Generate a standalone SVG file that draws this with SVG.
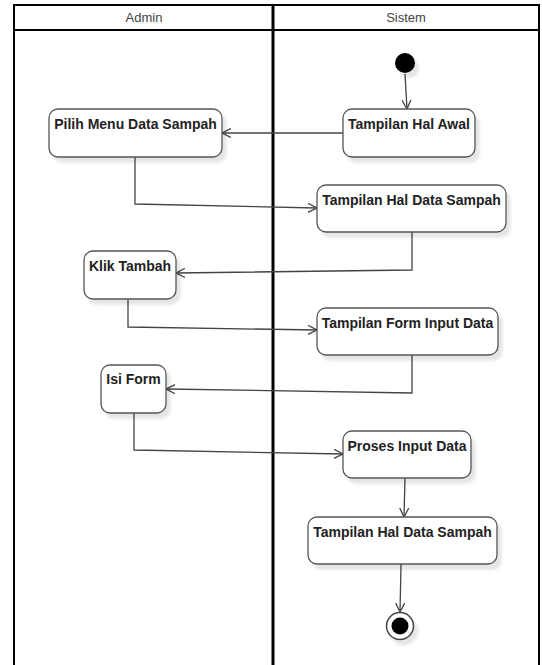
<svg xmlns="http://www.w3.org/2000/svg" width="542" height="665" viewBox="0 0 542 665">
  <style>
    .lane { fill: none; stroke: #000; stroke-width: 2; }
    .hdr { font-family: "Liberation Sans", Arial, sans-serif; font-size: 13px; fill: #444; text-anchor: middle; }
    .act { fill: #fff; stroke: #555; stroke-width: 1.3; filter: url(#shadow); }
    .lbl { font-family: "Liberation Sans", Arial, sans-serif; font-size: 14px; font-weight: bold; fill: #222; text-anchor: middle; }
    .flow { fill: none; stroke: #444; stroke-width: 1.3; marker-end: url(#open); }
  </style>
  <defs>
    <filter id="shadow" x="-20%" y="-20%" width="150%" height="160%">
      <feDropShadow dx="4" dy="5" stdDeviation="1.5" flood-color="#000" flood-opacity="0.1"/>
    </filter>
    <marker id="open" viewBox="0 0 10 10" refX="9" refY="5" markerWidth="10" markerHeight="10" markerUnits="userSpaceOnUse" orient="auto">
      <path d="M0,0.5 L9,5 L0,9.5" fill="none" stroke="#444" stroke-width="1.3"/>
    </marker>
  </defs>

  <rect x="0" y="0" width="542" height="665" fill="#fff"/>

  <!-- swimlanes -->
  <g id="lanes">
    <rect class="lane" x="14" y="5" width="525" height="670"/>
    <line class="lane" x1="14" y1="30" x2="539" y2="30"/>
    <line x1="273" y1="5" x2="273" y2="665" stroke="#000" stroke-width="3"/>
    <text class="hdr" x="144" y="22">Admin</text>
    <text class="hdr" x="406" y="22">Sistem</text>
  </g>

  <!-- connectors -->
  <g id="connectors">
    <path class="flow" d="M405,74 L407,109"/>
    <path class="flow" d="M343,133 L222,133"/>
    <path class="flow" d="M135,157 L135,204 L317,208"/>
    <path class="flow" d="M412,232 L412,270 L176,273"/>
    <path class="flow" d="M128,299 L128,327 L317,330"/>
    <path class="flow" d="M412,355 L412,393 L166,389"/>
    <path class="flow" d="M134,413 L134,450 L343,454"/>
    <path class="flow" d="M405,478 L404,517"/>
    <path class="flow" d="M401,564 L400,612"/>
  </g>

  <!-- nodes -->
  <g id="start">
    <circle cx="405" cy="63" r="10" fill="#000" filter="url(#shadow)"/>
  </g>
  <g id="tampilan-hal-awal">
    <rect class="act" x="343" y="109" width="132" height="48" rx="9"/>
    <text class="lbl" x="409" y="129">Tampilan Hal Awal</text>
  </g>
  <g id="pilih-menu">
    <rect class="act" x="49" y="109" width="173" height="48" rx="9"/>
    <text class="lbl" x="135.5" y="129">Pilih Menu Data Sampah</text>
  </g>
  <g id="tampilan-data-sampah-1">
    <rect class="act" x="317" y="185" width="189" height="47" rx="9"/>
    <text class="lbl" x="411.5" y="205">Tampilan Hal Data Sampah</text>
  </g>
  <g id="klik-tambah">
    <rect class="act" x="84" y="251" width="92" height="48" rx="9"/>
    <text class="lbl" x="130" y="271">Klik Tambah</text>
  </g>
  <g id="tampilan-form">
    <rect class="act" x="317" y="308" width="181" height="47" rx="9"/>
    <text class="lbl" x="407.5" y="328">Tampilan Form Input Data</text>
  </g>
  <g id="isi-form">
    <rect class="act" x="101" y="365" width="65" height="48" rx="9"/>
    <text class="lbl" x="133.5" y="384">Isi Form</text>
  </g>
  <g id="proses-input">
    <rect class="act" x="343" y="431" width="128" height="47" rx="9"/>
    <text class="lbl" x="407" y="451">Proses Input Data</text>
  </g>
  <g id="tampilan-data-sampah-2">
    <rect class="act" x="308" y="517" width="189" height="47" rx="9"/>
    <text class="lbl" x="402.5" y="537">Tampilan Hal Data Sampah</text>
  </g>
  <g id="end">
    <circle cx="400" cy="626" r="13.5" fill="#fff" stroke="#444" stroke-width="1.5" filter="url(#shadow)"/>
    <circle cx="400" cy="626" r="8.5" fill="#000"/>
  </g>
</svg>
